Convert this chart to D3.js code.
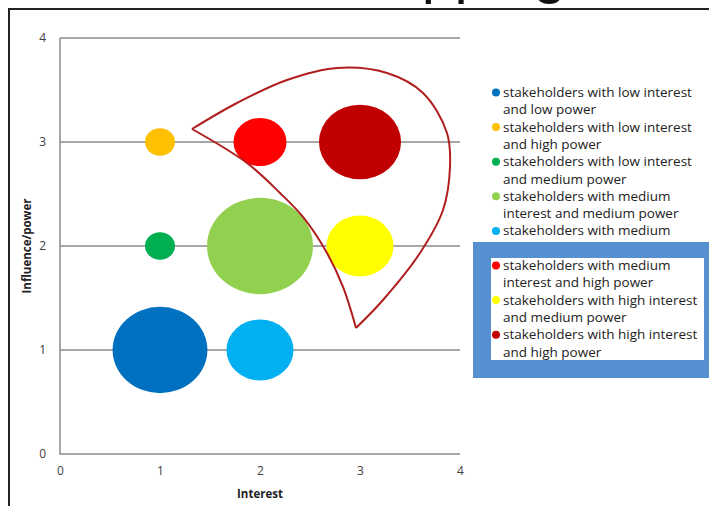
<!DOCTYPE html>
<html>
<head>
<meta charset="utf-8">
<script src="https://cdn.jsdelivr.net/npm/d3@7"></script>
<style>
  body { margin: 0; background: #fff; }
  svg { display: block; }
</style>
</head>
<body>
<div id="chart"></div>
<script>
//////////////////////////////////////////////////////////////////////////
// data

var interest = [1, 1, 1, 2, 2, 2, 3, 3];
var power    = [1, 3, 2, 2, 1, 3, 2, 3];
var sizes    = [8, 0.8, 0.8, 10, 4, 2.5, 4, 6];
var colors   = ["#0070C0", "#FFC000", "#00B050", "#92D050",
                "#00B0F0", "#FF0000", "#FFFF00", "#C00000"];
var legendLines = [
    ["stakeholders with low interest", "and low power"],
    ["stakeholders with low interest", "and high power"],
    ["stakeholders with low interest", "and medium power"],
    ["stakeholders with medium", "interest and medium power"],
    ["stakeholders with medium", "interest and low power"],
    ["stakeholders with medium", "interest and high power"],
    ["stakeholders with high interest", "and medium power"],
    ["stakeholders with high interest", "and high power"]
];
var xTicks = [0, 1, 2, 3, 4];
var yTicks = [0, 1, 2, 3, 4];

// outline around the high interest / high power group (data units)
var outerEdge = [[1.32, 3.125], [1.77, 3.375], [2.27, 3.596], [2.77, 3.712],
                 [3.27, 3.663], [3.63, 3.471], [3.87, 3.087], [3.90, 2.76],
                 [3.83, 2.346], [3.60, 1.933], [3.23, 1.481], [2.96, 1.212]];
var innerEdge = [[2.96, 1.212], [2.83, 1.606], [2.67, 1.933], [2.43, 2.279],
                 [2.20, 2.510], [1.87, 2.798], [1.32, 3.125]];

//////////////////////////////////////////////////////////////////////////
// layout

var Width = 709;
var Height = 506;
var plotLeft = 60, plotRight = 460, plotTop = 38, plotBottom = 454;
var bubbleSquash = 0.91;   // bubbles are a little flattened in the slide
var gridColor = "#8a8a8a";
var textColor = "#404040";
var font = "'Open Sans', Lato, sans-serif";

var svg = d3.select("#chart").append("svg")
    .attr("width", Width)
    .attr("height", Height);

var xScale = d3.scaleLinear().domain([0, 4]).range([plotLeft, plotRight]);
var yScale = d3.scaleLinear().domain([0, 4]).range([plotBottom, plotTop]);
var rScale = d3.scaleSqrt().domain([0, d3.max(sizes)]).range([0, 53]);

// slide title, mostly cut off at the top, and the slide frame
svg.append("text")
    .attr("x", 566)
    .attr("y", -8)
    .attr("text-anchor", "end")
    .attr("font-family", "'Liberation Sans', Arial, sans-serif")
    .attr("font-size", "59px")
    .attr("fill", "#111")
    .text("Stakeholder Mapping");

svg.append("path")
    .attr("d", "M9," + Height + "V9H" + Width)
    .attr("fill", "none")
    .attr("stroke", "#222")
    .attr("stroke-width", 2);

// gridlines and axis lines
svg.append("g").selectAll("line")
    .data(yTicks.filter(function(d) { return d > 0; }))
    .enter().append("line")
    .attr("x1", plotLeft).attr("x2", plotRight)
    .attr("y1", function(d) { return yScale(d); })
    .attr("y2", function(d) { return yScale(d); })
    .attr("stroke", gridColor)
    .attr("stroke-width", 1.5);

svg.append("path")
    .attr("d", "M" + plotLeft + "," + plotTop + "V" + plotBottom + "H" + plotRight)
    .attr("fill", "none")
    .attr("stroke", gridColor)
    .attr("stroke-width", 1.5);

// tick labels
var yAxis = svg.append("g")
    .attr("transform", "translate(" + plotLeft + ",0)")
    .call(d3.axisLeft(yScale).tickValues(yTicks).tickSize(0).tickPadding(14)
          .tickFormat(d3.format("d")));
var xAxis = svg.append("g")
    .attr("transform", "translate(0," + plotBottom + ")")
    .call(d3.axisBottom(xScale).tickValues(xTicks).tickSize(0).tickPadding(12)
          .tickFormat(d3.format("d")));
[xAxis, yAxis].forEach(function(ax) {
    ax.select(".domain").remove();
    ax.selectAll("text")
        .attr("font-family", font)
        .attr("font-size", "12px")
        .attr("fill", textColor);
});

// axis titles
svg.append("text")
    .attr("x", (plotLeft + plotRight) / 2)
    .attr("y", 498)
    .attr("text-anchor", "middle")
    .attr("font-family", font)
    .attr("font-size", "11.5px")
    .attr("font-weight", "bold")
    .attr("fill", "#222")
    .text("Interest");

svg.append("text")
    .attr("transform", "translate(31," + yScale(2) + ") rotate(-90)")
    .attr("text-anchor", "middle")
    .attr("font-family", font)
    .attr("font-size", "11.5px")
    .attr("font-weight", "bold")
    .attr("fill", "#222")
    .text("Influence/power");

// bubbles
svg.append("g").selectAll("ellipse")
    .data(sizes)
    .enter().append("ellipse")
    .attr("cx", function(d, i) { return xScale(interest[i]); })
    .attr("cy", function(d, i) { return yScale(power[i]); })
    .attr("rx", function(d) { return rScale(d); })
    .attr("ry", function(d) { return rScale(d) * bubbleSquash; })
    .attr("fill", function(d, i) { return colors[i]; });

// hand drawn outline
var edgeLine = d3.line()
    .x(function(d) { return xScale(d[0]); })
    .y(function(d) { return yScale(d[1]); })
    .curve(d3.curveCatmullRom);

svg.append("path")
    .attr("d", edgeLine(outerEdge) + edgeLine(innerEdge))
    .attr("fill", "none")
    .attr("stroke", "#B01E1E")
    .attr("stroke-width", 2)
    .attr("stroke-linejoin", "miter");

// legend
var legendX = 503, legendY = 92.5, lineStep = 17.3;
var legend = svg.append("g");
legendLines.forEach(function(lines, i) {
    var y0 = legendY + i * 2 * lineStep;
    legend.append("circle")
        .attr("cx", legendX - 7)
        .attr("cy", y0)
        .attr("r", 4)
        .attr("fill", colors[i]);
    lines.forEach(function(t, j) {
        legend.append("text")
            .attr("x", legendX)
            .attr("y", y0 + j * lineStep + 4.5)
            .attr("font-family", font)
            .attr("font-size", "13.5px")
            .attr("fill", "#222")
            .text(t);
    });
});

// blue frame drawn over the legend
svg.append("path")
    .attr("d", "M473,242H709V378H473Z M491,258V360H704V258Z")
    .attr("fill", "#5690D0")
    .attr("fill-rule", "evenodd");
</script>
</body>
</html>
